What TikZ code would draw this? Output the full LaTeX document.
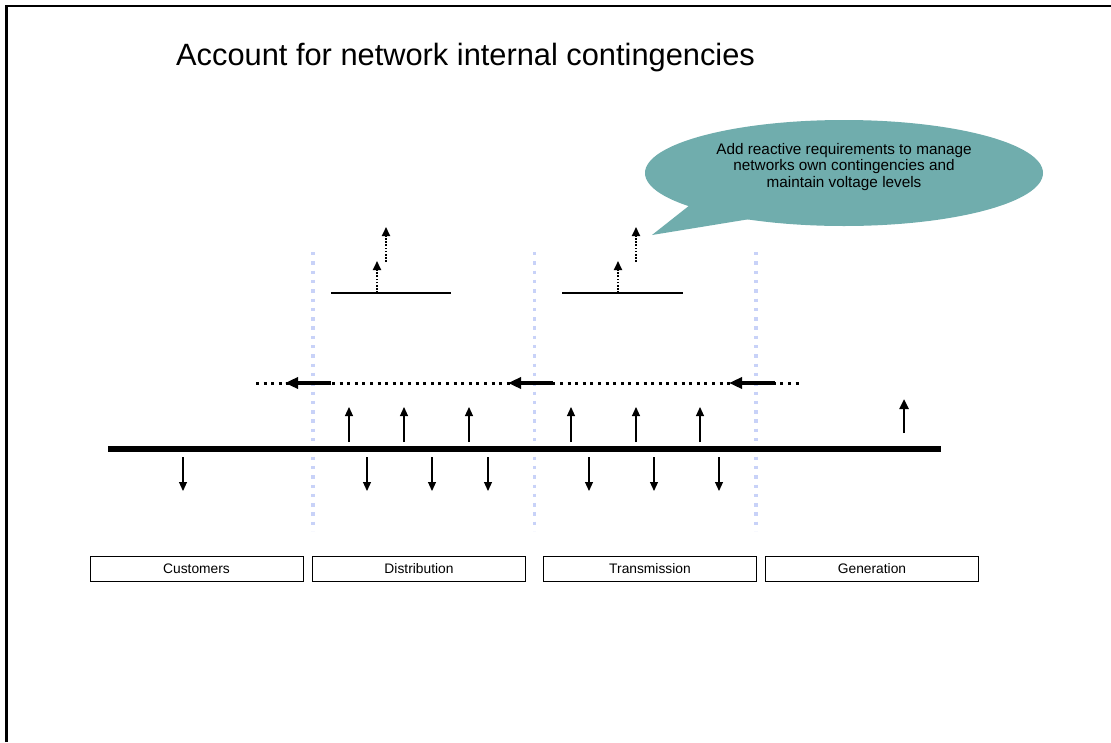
\documentclass[tikz,border=0pt]{standalone}
\usepackage{fontspec}
\setmainfont{Liberation Sans}
\usetikzlibrary{arrows.meta,shapes.geometric}
\definecolor{teal}{RGB}{112,173,173}
\definecolor{sepblue}{RGB}{200,210,248}
\tikzset{
  frameline/.style={line width=2.2pt},
  bus/.style={line width=6pt},
  thinup/.style={line width=1.1pt,-{Triangle[width=8pt,length=9pt]}},
  thindown/.style={line width=1.1pt,-{Triangle[width=8pt,length=9pt]}},
  genup/.style={line width=2.4pt,-{Triangle[width=9pt,length=10pt]}},
  flowarrow/.style={line width=3.4pt,-{Triangle[width=11pt,length=13pt]}},
  flowdots/.style={line width=3pt,dash pattern=on 3pt off 4.6pt},
  divider/.style={sepblue,line width=3.4pt,dash pattern=on 3.4pt off 5.9pt},
  dotup/.style={line width=1.8pt,dash pattern=on 1.6pt off 1.6pt,-{Triangle[width=8pt,length=9pt]}},
  level/.style={line width=1.1pt},
  sector/.style={draw,line width=1pt,minimum width=213pt,minimum height=25.5pt,inner sep=0pt,font=\fontsize{13.8}{16}\selectfont},
}
\begin{document}
\begin{tikzpicture}[x=1pt,y=-1pt]
\useasboundingbox (0,0) rectangle (1111,742);
\fill[white] (0,0) rectangle (1111,742);

% partial page frame
\coordinate (fa) at (6.5,742);
\coordinate (fb) at (6.5,5.6);
\coordinate (fc) at (1111,5.6);
\draw[frameline] (fa) -- (fb) -- (fc);

% title
\node[anchor=west,inner sep=0pt,font=\fontsize{30.8}{34}\selectfont] (title) at (176,58) {Account for network internal contingencies};

% callout
\fill[teal] (844,173) ellipse [x radius=199, y radius=53];
\coordinate (tailA) at (690,205);
\coordinate (tailB) at (652,235);
\coordinate (tailC) at (750,219);
\fill[teal] (tailA) -- (tailB) -- (tailC) -- cycle;
\node[align=center,inner sep=0pt,font=\fontsize{15.3}{16.6}\selectfont] (note) at (844,167)
  {Add reactive requirements to manage\\networks own contingencies and\\maintain voltage levels};

% sector dividers
\foreach \x [count=\i] in {313,534.5,756} {
  \coordinate (dt\i) at (\x,252);
  \coordinate (db\i) at (\x,531);
  \draw[divider] (dt\i) -- (db\i);
}

% reactive levels with dotted rising arrows
\coordinate (l1a) at (331,293); \coordinate (l1b) at (451,293);
\coordinate (l2a) at (562,293); \coordinate (l2b) at (683,293);
\draw[level] (l1a) -- (l1b);
\draw[level] (l2a) -- (l2b);
\coordinate (u1s) at (377,293); \coordinate (u1e) at (377,261);
\coordinate (u2s) at (386,262); \coordinate (u2e) at (386,227);
\coordinate (u3s) at (618,293); \coordinate (u3e) at (618,261);
\coordinate (u4s) at (636,262); \coordinate (u4e) at (636,227);
\draw[dotup] (u1s) -- (u1e);
\draw[dotup] (u2s) -- (u2e);
\draw[dotup] (u3s) -- (u3e);
\draw[dotup] (u4s) -- (u4e);

% reactive flow line
\coordinate (fl) at (256,383);
\coordinate (fr) at (800,383);
\draw[flowdots] (fl) -- (fr);
\foreach \s/\e [count=\i] in {331/285,553/508,775/729} {
  \coordinate (fs\i) at (\s,383);
  \coordinate (fe\i) at (\e,383);
  \draw[flowarrow] (fs\i) -- (fe\i);
}

% busbar
\coordinate (busL) at (108,449);
\coordinate (busR) at (941,449);
\draw[bus] (busL) -- (busR);

% injections above the bus
\foreach \x [count=\i] in {349,404,469,571,636,700} {
  \coordinate (ia\i) at (\x,442);
  \coordinate (ib\i) at (\x,407);
  \draw[thinup] (ia\i) -- (ib\i);
}
\coordinate (ga) at (904,433);
\coordinate (gb) at (904,399);
\draw[genup] (ga) -- (gb);

% demands below the bus
\foreach \x [count=\i] in {183,367,432,488,589,654,719} {
  \coordinate (da\i) at (\x,457);
  \coordinate (dd\i) at (\x,491);
  \draw[thindown] (da\i) -- (dd\i);
}

% sector labels
\node[sector] (cust) at (196.5,569) {Customers};
\node[sector] (dist) at (419,569) {Distribution};
\node[sector] (trans) at (650,569) {Transmission};
\node[sector] (gen) at (872,569) {Generation};
\end{tikzpicture}
\end{document}
